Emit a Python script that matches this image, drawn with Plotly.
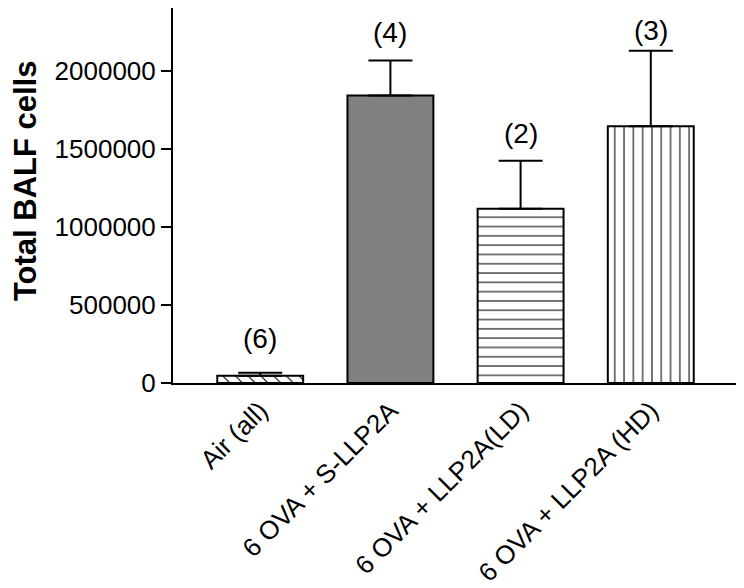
import plotly.graph_objects as go

categories = ["Air (all)", "6 OVA + S-LLP2A", "6 OVA + LLP2A(LD)", "6 OVA + LLP2A (HD)"]
values = [46000, 1840000, 1115000, 1643000]
errors = [20000, 224000, 308000, 483000]
n_labels = ["(6)", "(4)", "(2)", "(3)"]
label_y = [287000, 2245000, 1600000, 2258000]
ytick_vals = [0, 500000, 1000000, 1500000, 2000000]
ytick_text = ["0", "500000", "1000000", "1500000", "2000000"]

FONT = "Liberation Sans, Arial, sans-serif"

fills = [
    dict(shape="\\", size=9, solidity=0.12, fgcolor="#000000", bgcolor="#ffffff", fillmode="replace"),
    dict(shape="", fgcolor="#808080", bgcolor="#808080"),
    dict(shape="-", size=9.3, solidity=0.13, fgcolor="#222222", bgcolor="#ffffff", fillmode="replace"),
    dict(shape="|", size=9.3, solidity=0.13, fgcolor="#222222", bgcolor="#ffffff", fillmode="replace"),
]
colors = ["#ffffff", "#808080", "#ffffff", "#ffffff"]

fig = go.Figure()
for i, c in enumerate(categories):
    fig.add_trace(go.Bar(
        x=[c], y=[values[i]],
        width=0.66,
        marker=dict(color=colors[i], line=dict(color="#000000", width=2), pattern=fills[i]),
        error_y=dict(type="data", symmetric=False, array=[errors[i]], arrayminus=[0],
                     color="#000000", thickness=2, width=22),
        showlegend=False,
    ))

for i, c in enumerate(categories):
    fig.add_annotation(x=c, y=label_y[i], text=n_labels[i], showarrow=False,
                       font=dict(family=FONT, size=28, color="#000000"),
                       xanchor="center", yanchor="middle")

fig.add_annotation(xref="paper", yref="paper", x=-0.262, y=0.541, text="<b>Total BALF cells</b>",
                   textangle=-90, showarrow=False, xanchor="center", yanchor="middle",
                   font=dict(family=FONT, size=31, color="#000000"))

fig.update_layout(
    width=736, height=580,
    margin=dict(l=165, r=6, t=0, b=205),
    plot_bgcolor="#ffffff", paper_bgcolor="#ffffff",
    font=dict(family=FONT, color="#000000"),
    xaxis=dict(
        range=[-0.67, 3.67], showline=True, linecolor="#000000", linewidth=2,
        ticks="", tickangle=-45, tickfont=dict(family=FONT, size=26, color="#000000"),
        showgrid=False, zeroline=False,
    ),
    yaxis=dict(
        range=[0, 2400000], showline=True, linecolor="#000000", linewidth=2,
        ticks="outside", ticklen=10, tickwidth=2, tickcolor="#000000",
        tickvals=ytick_vals, ticktext=ytick_text,
        tickfont=dict(family=FONT, size=26, color="#000000"),
        showgrid=False, zeroline=False,
    ),
)

fig.write_html("out.html")
